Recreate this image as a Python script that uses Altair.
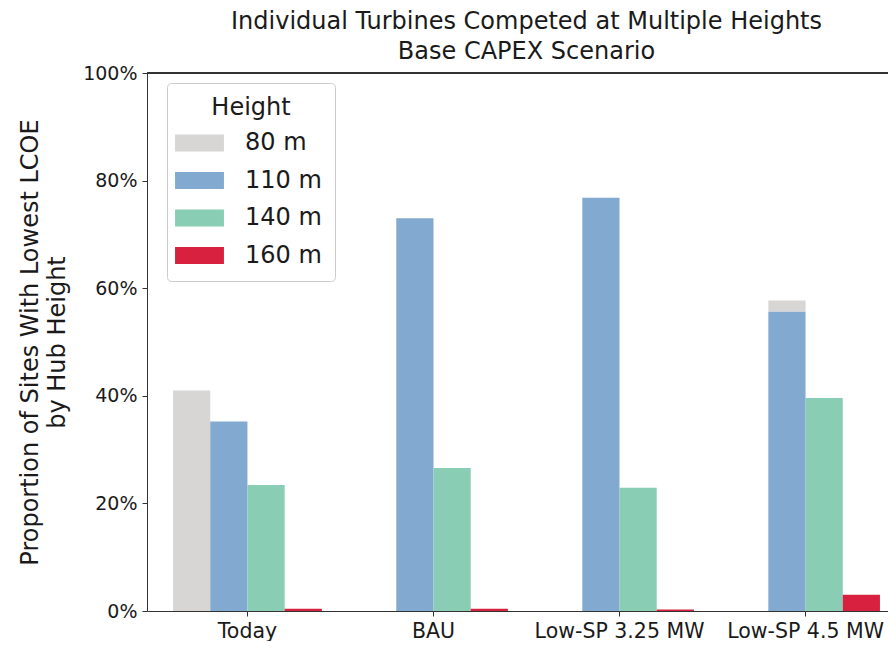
import altair as alt
import pandas as pd

categories = ["Today", "BAU", "Low-SP 3.25 MW", "Low-SP 4.5 MW"]
heights = ["80 m", "110 m", "140 m", "160 m"]
colors = ["#d8d6d5", "#82a9cf", "#88cdb4", "#d8203f"]

share_80 = [0.410, 0.0, 0.0, 0.021]
share_110 = [0.352, 0.730, 0.768, 0.556]
share_140 = [0.234, 0.266, 0.229, 0.396]
share_160 = [0.004, 0.004, 0.003, 0.030]
# slot in which the 80 m share is drawn (in the last group it sits on top of the 110 m bar)
slot_80 = ["80 m", "80 m", "80 m", "110 m"]

rows = []
for i, c in enumerate(categories):
    if share_80[i] > 0:
        base = share_110[i] if slot_80[i] == "110 m" else 0.0
        rows.append({"cat": c, "height": "80 m", "slot": slot_80[i], "lo": base, "hi": base + share_80[i]})
    for h, vals in (("110 m", share_110), ("140 m", share_140), ("160 m", share_160)):
        rows.append({"cat": c, "height": h, "slot": h, "lo": 0.0, "hi": vals[i]})
df = pd.DataFrame(rows)

FONT = "DejaVu Sans"
PLOT_W = 741
RANGE_W = 759
PLOT_H = 538

bars = alt.Chart(df).mark_bar(strokeWidth=0).encode(
    x=alt.X(
        "cat:N",
        sort=categories,
        scale=alt.Scale(domain=categories, range=[0, RANGE_W], paddingInner=0.2, paddingOuter=0.14),
        axis=alt.Axis(
            title=None, labelAngle=0, labelFontSize=20.5, labelColor="#1a1a1a",
            tickSize=5, labelPadding=5, domainColor="#333333", tickColor="#333333",
            labelFont=FONT,
        ),
    ),
    xOffset=alt.XOffset("slot:N", scale=alt.Scale(domain=heights, paddingInner=0, paddingOuter=0)),
    y=alt.Y(
        "lo:Q",
        stack=None,
        scale=alt.Scale(domain=[0, 1], nice=False),
        axis=alt.Axis(
            title=["Proportion of Sites With Lowest LCOE", "by Hub Height"],
            values=[0, 0.2, 0.4, 0.6, 0.8, 1.0], format=".0%",
            labelFontSize=19, labelColor="#1a1a1a", tickSize=5, labelPadding=5,
            domainColor="#333333", tickColor="#333333", grid=False,
            titleFontSize=24, titleFontWeight="normal", titleColor="#1a1a1a",
            titlePadding=13, titleLineHeight=27, labelFont=FONT, titleFont=FONT,
        ),
    ),
    y2="hi:Q",
    color=alt.Color(
        "height:N",
        scale=alt.Scale(domain=heights, range=colors),
        legend=alt.Legend(
            title="Height", orient="none", legendX=20, legendY=10, direction="vertical",
            titleFontSize=24, labelFontSize=24, titleFontWeight="normal",
            titleColor="#1a1a1a", labelColor="#1a1a1a",
            titleAnchor="middle", titleAlign="center",
            symbolType="M-1.33,-0.57L1.93,-0.57L1.93,0.57L-1.33,0.57Z",
            symbolSize=900, symbolStrokeWidth=0, symbolOpacity=1,
            labelOffset=35, rowPadding=10.5, padding=13, titlePadding=8,
            strokeColor="#cccccc", fillColor="rgba(255,255,255,0.85)", cornerRadius=4,
            labelFont=FONT, titleFont=FONT,
        ),
    ),
)

top_spine = alt.Chart(df).mark_rule(color="#333333", strokeWidth=1).encode(
    x=alt.value(0), x2=alt.value(RANGE_W), y=alt.value(0)
)

chart = alt.layer(bars, top_spine).properties(
    width=PLOT_W,
    height=PLOT_H,
    autosize=alt.AutoSizeParams(type="none"),
    padding={"left": 139, "top": 65, "right": 0, "bottom": 30},
    title=alt.TitleParams(
        ["Individual Turbines Competed at Multiple Heights", "Base CAPEX Scenario"],
        fontSize=24, fontWeight="normal", lineHeight=30, anchor="middle", dx=9,
        offset=0, color="#1a1a1a", font=FONT,
    ),
).configure_view(stroke=None).configure(font=FONT)

chart.save("out.html", embed_options={"renderer": "svg", "actions": False})
